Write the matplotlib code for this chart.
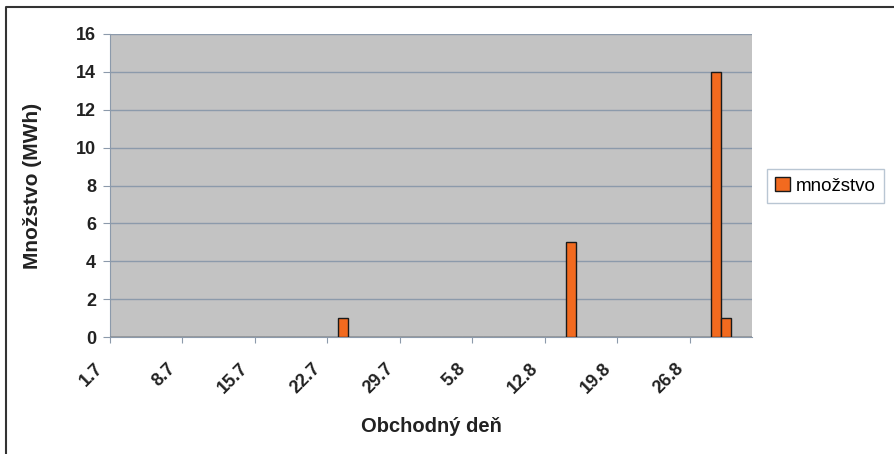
import matplotlib
matplotlib.use('Agg')
import matplotlib.pyplot as plt
from matplotlib.lines import Line2D
from matplotlib.transforms import ScaledTranslation
import numpy as np

plt.rcParams['font.family'] = ['Liberation Sans', 'DejaVu Sans']

# obchodné dni (júl + august)
days = [f'{d}.7' for d in range(1, 32)] + [f'{d}.8' for d in range(1, 32)]
# dni s obchodom a množstvo (MWh)
trade_days = ['23.7', '14.8', '28.8', '29.8']
amounts = [1, 5, 14, 1]
label_step = 7

values = np.zeros(len(days))
for d, a in zip(trade_days, amounts):
    values[days.index(d)] = a

txt = '#222222'
axis_col = '#8c9aab'

fig = plt.figure(figsize=(8.94, 4.54), dpi=100)
ax = fig.add_axes([110/894, 1-337/454, (752-110)/894, (337-34)/454])
ax.set_facecolor('#c3c3c3')

x = np.arange(len(days))
ax.bar(x, values, width=1.0, color='#f26a1f', edgecolor='#1a1a1a', linewidth=1, zorder=3,
       label='množstvo')

ax.set_xlim(-0.5, len(days) - 0.5)
ax.set_ylim(0, 16)
ax.set_yticks(np.arange(0, 17, 2))
ax.yaxis.grid(True, color=axis_col, linewidth=1)
ax.set_axisbelow(True)

# značky na hraniciach kategórií, natočené popisky mierne vľavo
ax.set_xticks(x[::label_step] - 0.5)
ax.set_xticklabels(days[::label_step], rotation=45, ha='right', va='center',
                   rotation_mode='anchor', fontsize=13, fontweight='bold', color=txt)
ax.tick_params(axis='x', length=4, color=axis_col, pad=17)
shift = ScaledTranslation(-0.093, 0, fig.dpi_scale_trans)
for lab in ax.get_xticklabels():
    lab.set_transform(lab.get_transform() + shift)
ax.tick_params(axis='y', length=5, color=axis_col, labelsize=13, labelcolor=txt, pad=5)
for t in ax.get_yticklabels():
    t.set_fontweight('bold')

for s in ['top', 'right']:
    ax.spines[s].set_visible(False)
for s in ['left', 'bottom']:
    ax.spines[s].set_color(axis_col)

ax.set_xlabel('Obchodný deň', fontsize=14.5, fontweight='bold', color=txt)
ax.xaxis.set_label_coords(0.5, (337-417)/303)
ax.set_ylabel('Množstvo (MWh)', fontsize=15, fontweight='bold', color=txt)
ax.yaxis.set_label_coords((42-110)/642, 0.5)

leg = ax.legend(loc='center left', bbox_to_anchor=(767/894, 1-186/454),
                bbox_transform=fig.transFigure, frameon=True, fancybox=False,
                fontsize=13.5, handlelength=0.75, handleheight=0.75, handletextpad=0.35,
                borderpad=0.45, borderaxespad=0)
leg.get_frame().set_edgecolor('#a8b8c8')
leg.get_frame().set_linewidth(1)

# rám obrázka (ľavá a horná hrana)
fig.lines.append(Line2D([6/894, 6/894, 1.0], [0.0, 1-7/454, 1-7/454],
                        transform=fig.transFigure, color='#333333', linewidth=1.5))

fig.savefig('out.png', dpi=100)
